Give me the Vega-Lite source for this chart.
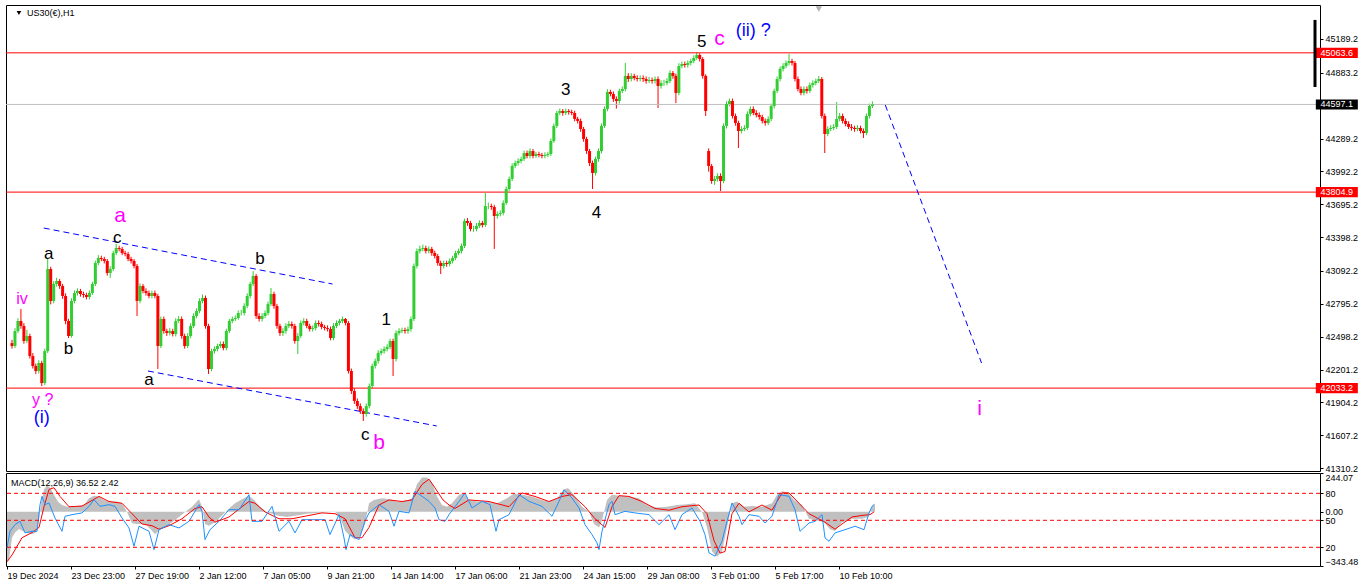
{
"$schema": "https://vega.github.io/schema/vega-lite/v6.json",
"padding": {"left": 4, "top": 4, "right": 0, "bottom": 0},
"background": "white",
"bounds": "flush",
"spacing": 2,
"config": {
 "view": {"stroke": "#000000", "strokeWidth": 1},
 "font": "Liberation Sans",
 "axis": {"labelFont": "Liberation Sans", "labelFontSize": 9, "labelColor": "#000000", "tickColor": "#000000", "domain": false, "grid": false, "labelOverlap": false, "labelFlush": false}
},
"datasets": {
"candles": [
{"i":0,"o":42440,"h":42470,"l":42390,"c":42414},{"i":3,"o":42414,"h":42575,"l":42395,"c":42549},{"i":6,"o":42549,"h":42665,"l":42530,"c":42640},{"i":9,"o":42640,"h":42748,"l":42570,"c":42595},{"i":12,"o":42595,"h":42620,"l":42435,"c":42459},{"i":15,"o":42459,"h":42560,"l":42440,"c":42504},{"i":18,"o":42504,"h":42525,"l":42300,"c":42323},{"i":21,"o":42323,"h":42350,"l":42210,"c":42233},{"i":24,"o":42233,"h":42255,"l":42160,"c":42188},{"i":27,"o":42188,"h":42285,"l":42165,"c":42260},
{"i":30,"o":42260,"h":42280,"l":42052,"c":42079},{"i":33,"o":42079,"h":42390,"l":42060,"c":42368},{"i":36,"o":42368,"h":43200,"l":42350,"c":43110},{"i":39,"o":43110,"h":43130,"l":42790,"c":42821},{"i":42,"o":42821,"h":43000,"l":42800,"c":42974},{"i":45,"o":42974,"h":43030,"l":42950,"c":43001},{"i":48,"o":43001,"h":43020,"l":42930,"c":42956},{"i":51,"o":42956,"h":42975,"l":42840,"c":42866},{"i":54,"o":42866,"h":42890,"l":42610,"c":42640},{"i":57,"o":42640,"h":42660,"l":42486,"c":42504},
{"i":60,"o":42504,"h":42845,"l":42490,"c":42821},{"i":63,"o":42821,"h":42915,"l":42800,"c":42893},{"i":66,"o":42893,"h":42935,"l":42870,"c":42911},{"i":69,"o":42911,"h":42930,"l":42860,"c":42884},{"i":72,"o":42884,"h":42905,"l":42850,"c":42875},{"i":75,"o":42875,"h":42895,"l":42835,"c":42857},{"i":78,"o":42857,"h":42915,"l":42835,"c":42893},{"i":81,"o":42893,"h":42995,"l":42875,"c":42974},{"i":84,"o":42974,"h":43185,"l":42955,"c":43164},{"i":87,"o":43164,"h":43235,"l":43145,"c":43209},
{"i":90,"o":43209,"h":43230,"l":43180,"c":43200},{"i":93,"o":43200,"h":43220,"l":43160,"c":43182},{"i":96,"o":43182,"h":43200,"l":43050,"c":43074},{"i":99,"o":43074,"h":43135,"l":43030,"c":43110},{"i":102,"o":43110,"h":43275,"l":43090,"c":43254},{"i":105,"o":43254,"h":43336,"l":43235,"c":43300},{"i":108,"o":43300,"h":43320,"l":43270,"c":43291},{"i":111,"o":43291,"h":43310,"l":43235,"c":43254},{"i":114,"o":43254,"h":43275,"l":43225,"c":43245},{"i":117,"o":43245,"h":43265,"l":43180,"c":43200},
{"i":120,"o":43200,"h":43220,"l":43160,"c":43182},{"i":123,"o":43182,"h":43200,"l":43115,"c":43137},{"i":126,"o":43137,"h":43155,"l":42685,"c":42821},{"i":129,"o":42821,"h":42980,"l":42800,"c":42956},{"i":132,"o":42956,"h":42975,"l":42890,"c":42911},{"i":135,"o":42911,"h":42935,"l":42870,"c":42893},{"i":138,"o":42893,"h":42915,"l":42845,"c":42866},{"i":141,"o":42866,"h":42915,"l":42845,"c":42893},{"i":144,"o":42893,"h":42915,"l":42845,"c":42866},{"i":147,"o":42866,"h":42885,"l":42206,"c":42414},
{"i":150,"o":42414,"h":42680,"l":42395,"c":42658},{"i":153,"o":42658,"h":42680,"l":42525,"c":42549},{"i":156,"o":42549,"h":42570,"l":42505,"c":42531},{"i":159,"o":42531,"h":42575,"l":42510,"c":42549},{"i":162,"o":42549,"h":42570,"l":42500,"c":42522},{"i":165,"o":42522,"h":42665,"l":42500,"c":42640},{"i":168,"o":42640,"h":42685,"l":42620,"c":42658},{"i":171,"o":42658,"h":42680,"l":42480,"c":42504},{"i":174,"o":42504,"h":42525,"l":42390,"c":42414},{"i":177,"o":42414,"h":42530,"l":42395,"c":42504},
{"i":180,"o":42504,"h":42620,"l":42485,"c":42595},{"i":183,"o":42595,"h":42710,"l":42575,"c":42685},{"i":186,"o":42685,"h":42755,"l":42665,"c":42730},{"i":189,"o":42730,"h":42845,"l":42710,"c":42821},{"i":192,"o":42821,"h":42880,"l":42800,"c":42848},{"i":195,"o":42848,"h":42870,"l":42570,"c":42595},{"i":198,"o":42595,"h":42615,"l":42161,"c":42206},{"i":201,"o":42206,"h":42390,"l":42185,"c":42368},{"i":204,"o":42368,"h":42410,"l":42345,"c":42387},{"i":207,"o":42387,"h":42435,"l":42365,"c":42414},
{"i":210,"o":42414,"h":42455,"l":42395,"c":42432},{"i":213,"o":42432,"h":42455,"l":42375,"c":42396},{"i":216,"o":42396,"h":42570,"l":42375,"c":42549},{"i":219,"o":42549,"h":42660,"l":42530,"c":42640},{"i":222,"o":42640,"h":42680,"l":42620,"c":42658},{"i":225,"o":42658,"h":42690,"l":42640,"c":42667},{"i":228,"o":42667,"h":42735,"l":42650,"c":42712},{"i":231,"o":42712,"h":42740,"l":42690,"c":42712},{"i":234,"o":42712,"h":42800,"l":42690,"c":42775},{"i":237,"o":42775,"h":42890,"l":42755,"c":42866},
{"i":240,"o":42866,"h":42995,"l":42845,"c":42974},{"i":243,"o":42974,"h":43091,"l":42955,"c":43047},{"i":246,"o":43047,"h":43065,"l":42660,"c":42685},{"i":249,"o":42685,"h":42710,"l":42635,"c":42658},{"i":252,"o":42658,"h":42710,"l":42635,"c":42685},{"i":255,"o":42685,"h":42735,"l":42665,"c":42712},{"i":258,"o":42712,"h":42815,"l":42690,"c":42793},{"i":261,"o":42793,"h":42938,"l":42775,"c":42884},{"i":264,"o":42884,"h":42905,"l":42750,"c":42775},{"i":267,"o":42775,"h":42795,"l":42570,"c":42595},
{"i":270,"o":42595,"h":42615,"l":42505,"c":42531},{"i":273,"o":42531,"h":42575,"l":42505,"c":42549},{"i":276,"o":42549,"h":42620,"l":42525,"c":42595},{"i":279,"o":42595,"h":42640,"l":42575,"c":42613},{"i":282,"o":42613,"h":42635,"l":42570,"c":42595},{"i":285,"o":42595,"h":42615,"l":42435,"c":42459},{"i":288,"o":42459,"h":42530,"l":42341,"c":42504},{"i":291,"o":42504,"h":42645,"l":42485,"c":42622},{"i":294,"o":42622,"h":42665,"l":42600,"c":42640},{"i":297,"o":42640,"h":42660,"l":42575,"c":42595},
{"i":300,"o":42595,"h":42615,"l":42545,"c":42567},{"i":303,"o":42567,"h":42600,"l":42545,"c":42576},{"i":306,"o":42576,"h":42645,"l":42555,"c":42622},{"i":309,"o":42622,"h":42645,"l":42590,"c":42613},{"i":312,"o":42613,"h":42635,"l":42565,"c":42586},{"i":315,"o":42586,"h":42605,"l":42555,"c":42576},{"i":318,"o":42576,"h":42600,"l":42545,"c":42567},{"i":321,"o":42567,"h":42590,"l":42465,"c":42486},{"i":324,"o":42486,"h":42620,"l":42465,"c":42595},{"i":327,"o":42595,"h":42645,"l":42575,"c":42622},
{"i":330,"o":42622,"h":42660,"l":42600,"c":42640},{"i":333,"o":42640,"h":42680,"l":42620,"c":42658},{"i":336,"o":42658,"h":42667,"l":42600,"c":42622},{"i":339,"o":42622,"h":42640,"l":42165,"c":42188},{"i":342,"o":42188,"h":42210,"l":41980,"c":42007},{"i":345,"o":42007,"h":42030,"l":41890,"c":41917},{"i":348,"o":41917,"h":41940,"l":41845,"c":41871},{"i":351,"o":41871,"h":41895,"l":41800,"c":41826},{"i":354,"o":41826,"h":41850,"l":41736,"c":41799},{"i":357,"o":41799,"h":41895,"l":41775,"c":41871},
{"i":360,"o":41871,"h":42075,"l":41850,"c":42052},{"i":363,"o":42052,"h":42255,"l":42030,"c":42233},{"i":366,"o":42233,"h":42300,"l":42210,"c":42278},{"i":369,"o":42278,"h":42375,"l":42255,"c":42350},{"i":372,"o":42350,"h":42390,"l":42330,"c":42368},{"i":375,"o":42368,"h":42410,"l":42345,"c":42387},{"i":378,"o":42387,"h":42430,"l":42365,"c":42405},{"i":381,"o":42405,"h":42480,"l":42385,"c":42459},{"i":384,"o":42459,"h":42480,"l":42142,"c":42296},{"i":387,"o":42296,"h":42555,"l":42275,"c":42531},
{"i":390,"o":42531,"h":42575,"l":42510,"c":42549},{"i":393,"o":42549,"h":42580,"l":42530,"c":42558},{"i":396,"o":42558,"h":42580,"l":42525,"c":42549},{"i":399,"o":42549,"h":42590,"l":42525,"c":42567},{"i":402,"o":42567,"h":42680,"l":42545,"c":42658},{"i":405,"o":42658,"h":43160,"l":42640,"c":43137},{"i":408,"o":43137,"h":43295,"l":43115,"c":43272},{"i":411,"o":43272,"h":43320,"l":43250,"c":43291},{"i":414,"o":43291,"h":43330,"l":43270,"c":43300},{"i":417,"o":43300,"h":43320,"l":43250,"c":43272},
{"i":420,"o":43272,"h":43315,"l":43250,"c":43291},{"i":423,"o":43291,"h":43310,"l":43230,"c":43254},{"i":426,"o":43254,"h":43275,"l":43205,"c":43227},{"i":429,"o":43227,"h":43245,"l":43140,"c":43164},{"i":432,"o":43164,"h":43185,"l":43064,"c":43137},{"i":435,"o":43137,"h":43185,"l":43115,"c":43164},{"i":438,"o":43164,"h":43185,"l":43130,"c":43155},{"i":441,"o":43155,"h":43205,"l":43135,"c":43182},{"i":444,"o":43182,"h":43230,"l":43160,"c":43209},{"i":447,"o":43209,"h":43275,"l":43190,"c":43254},
{"i":450,"o":43254,"h":43295,"l":43235,"c":43272},{"i":453,"o":43272,"h":43340,"l":43250,"c":43318},{"i":456,"o":43318,"h":43565,"l":43300,"c":43544},{"i":459,"o":43544,"h":43570,"l":43500,"c":43526},{"i":462,"o":43526,"h":43545,"l":43450,"c":43471},{"i":465,"o":43471,"h":43500,"l":43445,"c":43471},{"i":468,"o":43471,"h":43525,"l":43450,"c":43499},{"i":471,"o":43499,"h":43550,"l":43480,"c":43526},{"i":474,"o":43526,"h":43545,"l":43485,"c":43508},{"i":477,"o":43508,"h":43797,"l":43490,"c":43679},
{"i":480,"o":43679,"h":43710,"l":43650,"c":43679},{"i":483,"o":43679,"h":43700,"l":43645,"c":43670},{"i":486,"o":43670,"h":43690,"l":43291,"c":43589},{"i":489,"o":43589,"h":43630,"l":43565,"c":43607},{"i":492,"o":43607,"h":43640,"l":43585,"c":43616},{"i":495,"o":43616,"h":43730,"l":43595,"c":43706},{"i":498,"o":43706,"h":43855,"l":43690,"c":43833},{"i":501,"o":43833,"h":43945,"l":43815,"c":43924},{"i":504,"o":43924,"h":44065,"l":43905,"c":44041},{"i":507,"o":44041,"h":44090,"l":44020,"c":44068},
{"i":510,"o":44068,"h":44110,"l":44045,"c":44086},{"i":513,"o":44086,"h":44125,"l":44065,"c":44104},{"i":516,"o":44104,"h":44180,"l":44085,"c":44158},{"i":519,"o":44158,"h":44180,"l":44110,"c":44131},{"i":522,"o":44131,"h":44200,"l":44110,"c":44176},{"i":525,"o":44176,"h":44195,"l":44110,"c":44131},{"i":528,"o":44131,"h":44170,"l":44115,"c":44149},{"i":531,"o":44149,"h":44170,"l":44120,"c":44140},{"i":534,"o":44140,"h":44160,"l":44110,"c":44131},{"i":537,"o":44131,"h":44165,"l":44110,"c":44140},
{"i":540,"o":44140,"h":44170,"l":44120,"c":44149},{"i":543,"o":44149,"h":44290,"l":44130,"c":44267},{"i":546,"o":44267,"h":44425,"l":44250,"c":44403},{"i":549,"o":44403,"h":44540,"l":44385,"c":44520},{"i":552,"o":44520,"h":44560,"l":44500,"c":44538},{"i":555,"o":44538,"h":44556,"l":44495,"c":44520},{"i":558,"o":44520,"h":44560,"l":44500,"c":44538},{"i":561,"o":44538,"h":44555,"l":44505,"c":44529},{"i":564,"o":44529,"h":44550,"l":44500,"c":44520},{"i":567,"o":44520,"h":44540,"l":44445,"c":44466},
{"i":570,"o":44466,"h":44485,"l":44425,"c":44448},{"i":573,"o":44448,"h":44470,"l":44350,"c":44375},{"i":576,"o":44375,"h":44395,"l":44260,"c":44285},{"i":579,"o":44285,"h":44305,"l":44150,"c":44176},{"i":582,"o":44176,"h":44195,"l":44040,"c":44068},{"i":585,"o":44068,"h":44090,"l":43833,"c":43978},{"i":588,"o":43978,"h":44125,"l":43955,"c":44104},{"i":591,"o":44104,"h":44200,"l":44080,"c":44176},{"i":594,"o":44176,"h":44425,"l":44155,"c":44403},{"i":597,"o":44403,"h":44580,"l":44385,"c":44556},
{"i":600,"o":44556,"h":44735,"l":44535,"c":44710},{"i":603,"o":44710,"h":44730,"l":44670,"c":44692},{"i":606,"o":44692,"h":44715,"l":44620,"c":44647},{"i":609,"o":44647,"h":44670,"l":44560,"c":44628},{"i":612,"o":44628,"h":44740,"l":44605,"c":44719},{"i":615,"o":44719,"h":44760,"l":44700,"c":44737},{"i":618,"o":44737,"h":44972,"l":44715,"c":44855},{"i":621,"o":44855,"h":44880,"l":44800,"c":44827},{"i":624,"o":44827,"h":44880,"l":44805,"c":44855},{"i":627,"o":44855,"h":44875,"l":44815,"c":44836},
{"i":630,"o":44836,"h":44860,"l":44805,"c":44827},{"i":633,"o":44827,"h":44860,"l":44805,"c":44836},{"i":636,"o":44836,"h":44860,"l":44800,"c":44827},{"i":639,"o":44827,"h":44850,"l":44785,"c":44809},{"i":642,"o":44809,"h":44845,"l":44790,"c":44818},{"i":645,"o":44818,"h":44840,"l":44785,"c":44809},{"i":648,"o":44809,"h":44850,"l":44785,"c":44827},{"i":651,"o":44827,"h":44850,"l":44565,"c":44764},{"i":654,"o":44764,"h":44815,"l":44740,"c":44791},{"i":657,"o":44791,"h":44820,"l":44765,"c":44791},
{"i":660,"o":44791,"h":44835,"l":44770,"c":44809},{"i":663,"o":44809,"h":44905,"l":44790,"c":44882},{"i":666,"o":44882,"h":44900,"l":44830,"c":44855},{"i":669,"o":44855,"h":44875,"l":44610,"c":44701},{"i":672,"o":44701,"h":44970,"l":44680,"c":44945},{"i":675,"o":44945,"h":44985,"l":44925,"c":44963},{"i":678,"o":44963,"h":44985,"l":44930,"c":44954},{"i":681,"o":44954,"h":44995,"l":44930,"c":44972},{"i":684,"o":44972,"h":45010,"l":44950,"c":44990},{"i":687,"o":44990,"h":45040,"l":44970,"c":45017},
{"i":690,"o":45017,"h":45071,"l":45000,"c":45044},{"i":693,"o":45044,"h":45060,"l":44985,"c":45008},{"i":696,"o":45008,"h":45025,"l":44830,"c":44855},{"i":699,"o":44855,"h":44870,"l":44493,"c":44538},{"i":702,"o":44176,"h":44200,"l":43990,"c":44041},{"i":705,"o":44041,"h":44060,"l":43880,"c":43905},{"i":708,"o":43905,"h":43950,"l":43870,"c":43924},{"i":711,"o":43924,"h":43975,"l":43900,"c":43951},{"i":714,"o":43951,"h":43975,"l":43815,"c":43905},{"i":717,"o":43905,"h":44425,"l":43885,"c":44403},
{"i":720,"o":44403,"h":44625,"l":44380,"c":44601},{"i":723,"o":44601,"h":44650,"l":44580,"c":44628},{"i":726,"o":44628,"h":44650,"l":44470,"c":44493},{"i":729,"o":44493,"h":44515,"l":44405,"c":44430},{"i":732,"o":44430,"h":44450,"l":44204,"c":44357},{"i":735,"o":44357,"h":44400,"l":44335,"c":44375},{"i":738,"o":44375,"h":44410,"l":44355,"c":44385},{"i":741,"o":44385,"h":44535,"l":44365,"c":44511},{"i":744,"o":44511,"h":44580,"l":44490,"c":44556},{"i":747,"o":44556,"h":44580,"l":44500,"c":44520},
{"i":750,"o":44520,"h":44545,"l":44480,"c":44502},{"i":753,"o":44502,"h":44525,"l":44460,"c":44484},{"i":756,"o":44484,"h":44505,"l":44425,"c":44448},{"i":759,"o":44448,"h":44470,"l":44405,"c":44430},{"i":762,"o":44430,"h":44490,"l":44410,"c":44466},{"i":765,"o":44466,"h":44605,"l":44445,"c":44583},{"i":768,"o":44583,"h":44740,"l":44560,"c":44719},{"i":771,"o":44719,"h":44850,"l":44700,"c":44827},{"i":774,"o":44827,"h":44940,"l":44805,"c":44918},{"i":777,"o":44918,"h":44970,"l":44895,"c":44945},
{"i":780,"o":44945,"h":44995,"l":44925,"c":44972},{"i":783,"o":44972,"h":45053,"l":44950,"c":44990},{"i":786,"o":44990,"h":45010,"l":44950,"c":44972},{"i":789,"o":44972,"h":44990,"l":44805,"c":44827},{"i":792,"o":44827,"h":44850,"l":44715,"c":44737},{"i":795,"o":44737,"h":44760,"l":44680,"c":44701},{"i":798,"o":44701,"h":44760,"l":44680,"c":44737},{"i":801,"o":44737,"h":44760,"l":44695,"c":44719},{"i":804,"o":44719,"h":44795,"l":44700,"c":44773},{"i":807,"o":44773,"h":44815,"l":44750,"c":44791},
{"i":810,"o":44791,"h":44830,"l":44770,"c":44809},{"i":813,"o":44809,"h":44855,"l":44790,"c":44827},{"i":816,"o":44827,"h":44845,"l":44470,"c":44493},{"i":819,"o":44493,"h":44515,"l":44158,"c":44330},{"i":822,"o":44330,"h":44400,"l":44310,"c":44375},{"i":825,"o":44375,"h":44410,"l":44355,"c":44385},{"i":828,"o":44385,"h":44420,"l":44365,"c":44394},{"i":831,"o":44394,"h":44619,"l":44375,"c":44466},{"i":834,"o":44466,"h":44520,"l":44445,"c":44493},{"i":837,"o":44493,"h":44515,"l":44425,"c":44448},
{"i":840,"o":44448,"h":44470,"l":44400,"c":44421},{"i":843,"o":44421,"h":44445,"l":44375,"c":44394},{"i":846,"o":44394,"h":44420,"l":44360,"c":44385},{"i":849,"o":44385,"h":44405,"l":44350,"c":44375},{"i":852,"o":44375,"h":44410,"l":44355,"c":44385},{"i":855,"o":44385,"h":44405,"l":44335,"c":44357},{"i":858,"o":44357,"h":44380,"l":44294,"c":44339},{"i":861,"o":44339,"h":44515,"l":44320,"c":44493},{"i":864,"o":44493,"h":44605,"l":44470,"c":44583},{"i":867,"o":44583,"h":44625,"l":44565,"c":44597}
],
"hist": [
{"i":0,"m":-317},{"i":2,"m":-306},{"i":5,"m":-165},{"i":8,"m":-132},{"i":12,"m":-110},{"i":15,"m":-121},{"i":20,"m":-132},{"i":25,"m":-143},{"i":29,"m":-132},{"i":32,"m":-56},{"i":34,"m":53},{"i":37,"m":140},{"i":40,"m":166},{"i":43,"m":151},{"i":47,"m":107},{"i":51,"m":63},{"i":55,"m":42},{"i":60,"m":31},{"i":70,"m":35},{"i":77,"m":42},{"i":82,"m":85},{"i":87,"m":101},{"i":92,"m":96},{"i":97,"m":74},{"i":102,"m":64},{"i":110,"m":64},{"i":115,"m":53},{"i":120,"m":-2},{"i":125,"m":-73},{"i":130,"m":-78},{"i":135,"m":-78},{"i":140,"m":-89},{"i":145,"m":-121},{"i":148,"m":-143},{"i":152,"m":-117},{"i":158,"m":-100},{"i":165,"m":-67},{"i":172,"m":-34},{"i":178,"m":-2},{"i":185,"m":31},{"i":192,"m":79},{"i":195,"m":31},{"i":198,"m":-78},{"i":202,"m":-89},{"i":208,"m":-67},{"i":215,"m":-24},{"i":222,"m":20},{"i":228,"m":53},{"i":235,"m":79},{"i":242,"m":101},{"i":247,"m":74},{"i":253,"m":31},{"i":260,"m":-2},{"i":270,"m":-24},{"i":280,"m":-34},{"i":290,"m":-24},{"i":300,"m":-13},{"i":315,"m":-6},{"i":328,"m":-2},{"i":333,"m":-34},{"i":338,"m":-121},{"i":343,"m":-154},{"i":348,"m":-176},{"i":353,"m":-154},{"i":358,"m":-78},{"i":362,"m":53},{"i":367,"m":74},{"i":375,"m":85},{"i":382,"m":79},{"i":390,"m":64},{"i":400,"m":70},{"i":405,"m":85},{"i":410,"m":173},{"i":415,"m":216},{"i":420,"m":216},{"i":425,"m":183},{"i":430,"m":96},{"i":435,"m":42},{"i":440,"m":31},{"i":445,"m":53},{"i":452,"m":107},{"i":457,"m":118},{"i":462,"m":74},{"i":470,"m":64},{"i":480,"m":64},{"i":490,"m":53},{"i":500,"m":85},{"i":507,"m":114},{"i":515,"m":107},{"i":525,"m":96},{"i":535,"m":74},{"i":542,"m":64},{"i":550,"m":85},{"i":557,"m":140},{"i":561,"m":150},{"i":567,"m":107},{"i":575,"m":31},{"i":582,"m":-2},{"i":587,"m":-78},{"i":592,"m":-100},{"i":595,"m":-56},{"i":600,"m":74},{"i":605,"m":107},{"i":612,"m":101},{"i":622,"m":96},{"i":632,"m":85},{"i":640,"m":42},{"i":650,"m":26},{"i":660,"m":31},{"i":670,"m":42},{"i":680,"m":46},{"i":688,"m":53},{"i":695,"m":-2},{"i":700,"m":-100},{"i":705,"m":-252},{"i":710,"m":-285},{"i":715,"m":-252},{"i":720,"m":-100},{"i":725,"m":53},{"i":730,"m":64},{"i":737,"m":31},{"i":745,"m":35},{"i":755,"m":31},{"i":765,"m":53},{"i":770,"m":107},{"i":775,"m":129},{"i":781,"m":122},{"i":787,"m":74},{"i":795,"m":42},{"i":802,"m":-45},{"i":810,"m":-56},{"i":817,"m":-67},{"i":823,"m":-111},{"i":828,"m":-122},{"i":835,"m":-67},{"i":845,"m":-45},{"i":855,"m":-45},{"i":861,"m":-34},{"i":865,"m":31},{"i":868,"m":53}
],
"sig": [
{"i":0,"s":-317},{"i":5,"s":-274},{"i":15,"s":-165},{"i":25,"s":-132},{"i":32,"s":-100},{"i":37,"s":31},{"i":42,"s":140},{"i":47,"s":151},{"i":53,"s":96},{"i":62,"s":31},{"i":75,"s":35},{"i":92,"s":96},{"i":102,"s":64},{"i":115,"s":53},{"i":125,"s":-13},{"i":135,"s":-78},{"i":145,"s":-89},{"i":152,"s":-111},{"i":162,"s":-89},{"i":175,"s":-45},{"i":188,"s":20},{"i":195,"s":31},{"i":202,"s":-34},{"i":208,"s":-67},{"i":222,"s":-34},{"i":235,"s":31},{"i":242,"s":64},{"i":248,"s":53},{"i":258,"s":-2},{"i":272,"s":-45},{"i":285,"s":-45},{"i":302,"s":-24},{"i":315,"s":-8},{"i":328,"s":-13},{"i":338,"s":-45},{"i":348,"s":-165},{"i":355,"s":-165},{"i":362,"s":-100},{"i":372,"s":42},{"i":382,"s":74},{"i":395,"s":64},{"i":405,"s":74},{"i":415,"s":172},{"i":422,"s":205},{"i":428,"s":150},{"i":436,"s":74},{"i":442,"s":42},{"i":448,"s":20},{"i":462,"s":74},{"i":482,"s":64},{"i":502,"s":31},{"i":515,"s":118},{"i":528,"s":96},{"i":542,"s":64},{"i":555,"s":96},{"i":565,"s":107},{"i":578,"s":31},{"i":588,"s":-45},{"i":598,"s":-100},{"i":605,"s":31},{"i":612,"s":101},{"i":622,"s":96},{"i":635,"s":64},{"i":648,"s":20},{"i":662,"s":9},{"i":675,"s":31},{"i":692,"s":42},{"i":700,"s":-13},{"i":707,"s":-183},{"i":713,"s":-262},{"i":718,"s":-252},{"i":725,"s":-13},{"i":732,"s":53},{"i":742,"s":-2},{"i":755,"s":42},{"i":765,"s":9},{"i":775,"s":118},{"i":782,"s":118},{"i":792,"s":53},{"i":802,"s":-13},{"i":818,"s":-67},{"i":828,"s":-111},{"i":835,"s":-78},{"i":845,"s":-34},{"i":855,"s":-24},{"i":863,"s":-19},{"i":867,"s":-2}
],
"rsi": [
{"i":0,"r":19.3},{"i":3,"r":37.8},{"i":8,"r":45.2},{"i":13,"r":48.9},{"i":18,"r":36},{"i":25,"r":37.8},{"i":30,"r":37.8},{"i":33,"r":67.4},{"i":35,"r":76.7},{"i":38,"r":67.4},{"i":42,"r":69.3},{"i":48,"r":52.6},{"i":55,"r":37.8},{"i":58,"r":54.5},{"i":65,"r":56.3},{"i":75,"r":58.2},{"i":82,"r":65.5},{"i":87,"r":73},{"i":93,"r":65.5},{"i":102,"r":67.4},{"i":108,"r":65.5},{"i":115,"r":52.6},{"i":122,"r":41.5},{"i":127,"r":21.2},{"i":132,"r":43.4},{"i":142,"r":37.8},{"i":147,"r":17.4},{"i":152,"r":39.6},{"i":162,"r":45.2},{"i":172,"r":41.5},{"i":182,"r":48.9},{"i":192,"r":67.4},{"i":195,"r":60},{"i":198,"r":28.5},{"i":203,"r":39.6},{"i":212,"r":48.9},{"i":222,"r":61.8},{"i":232,"r":61.8},{"i":242,"r":78.5},{"i":245,"r":48.9},{"i":255,"r":48.9},{"i":265,"r":65.5},{"i":272,"r":37.8},{"i":282,"r":48.9},{"i":288,"r":36},{"i":295,"r":50.7},{"i":308,"r":50.7},{"i":318,"r":50.7},{"i":323,"r":34.1},{"i":332,"r":56.3},{"i":337,"r":30.4},{"i":339,"r":17.4},{"i":343,"r":34.1},{"i":352,"r":28.5},{"i":358,"r":48.9},{"i":362,"r":58.2},{"i":372,"r":67.4},{"i":382,"r":60},{"i":387,"r":43.4},{"i":392,"r":60},{"i":402,"r":58.2},{"i":408,"r":82.2},{"i":415,"r":76.7},{"i":422,"r":71.1},{"i":428,"r":63.7},{"i":432,"r":50.7},{"i":438,"r":48.9},{"i":442,"r":56.3},{"i":452,"r":71.1},{"i":458,"r":80.4},{"i":465,"r":63.7},{"i":475,"r":71.1},{"i":483,"r":67.4},{"i":489,"r":37.8},{"i":492,"r":50.7},{"i":502,"r":56.3},{"i":512,"r":78.5},{"i":522,"r":71.1},{"i":535,"r":65.5},{"i":545,"r":54.5},{"i":552,"r":71.1},{"i":557,"r":84},{"i":565,"r":74.8},{"i":572,"r":63.7},{"i":578,"r":45.2},{"i":585,"r":34.1},{"i":590,"r":24.9},{"i":592,"r":17.4},{"i":595,"r":37.8},{"i":602,"r":67.4},{"i":605,"r":71.1},{"i":608,"r":56.3},{"i":618,"r":60},{"i":628,"r":58.2},{"i":642,"r":56.3},{"i":652,"r":45.2},{"i":662,"r":56.3},{"i":668,"r":39.6},{"i":675,"r":56.3},{"i":685,"r":63.7},{"i":693,"r":48.9},{"i":698,"r":34.1},{"i":702,"r":13.8},{"i":708,"r":10.1},{"i":715,"r":26.7},{"i":720,"r":48.9},{"i":725,"r":69.3},{"i":732,"r":54.5},{"i":735,"r":45.2},{"i":742,"r":56.3},{"i":752,"r":54.5},{"i":758,"r":47},{"i":765,"r":54.5},{"i":772,"r":78.5},{"i":782,"r":76.7},{"i":788,"r":61.8},{"i":793,"r":37.8},{"i":802,"r":47},{"i":808,"r":48.9},{"i":815,"r":56.3},{"i":818,"r":30.4},{"i":822,"r":26.7},{"i":828,"r":36},{"i":838,"r":39.6},{"i":848,"r":43.4},{"i":857,"r":39.6},{"i":862,"r":58.2},{"i":865,"r":65.5},{"i":867,"r":67.4}
],
"levels": [{"p":45063.6,"k":"level"},{"p":44597.1,"k":"last"},{"p":43804.9,"k":"level"},{"p":42033.2,"k":"level"}],
"guides": [{"g":"u","i":32,"p":43480},{"g":"u","i":323,"p":42974},{"g":"l","i":137,"p":42188},{"g":"l","i":428,"p":41691},{"g":"f","i":880,"p":44592},{"g":"f","i":977,"p":42260}],
"labels": [
{"t":"a","i":37,"p":43245,"k":"minute"},{"t":"b","i":57,"p":42387,"k":"minute"},{"t":"c","i":106,"p":43390,"k":"minute"},{"t":"b","i":250,"p":43200,"k":"minute"},{"t":"a","i":138,"p":42106,"k":"minute"},{"t":"c","i":356,"p":41609,"k":"minute"},{"t":"1","i":377,"p":42649,"k":"minute"},{"t":"3","i":558,"p":44728,"k":"minute"},{"t":"4","i":589,"p":43616,"k":"minute"},{"t":"5","i":695,"p":45162,"k":"minute"},
{"t":"iv","i":10,"p":42839,"k":"minor"},{"t":"y ?","i":31,"p":41925,"k":"minor"},
{"t":"a","i":109,"p":43590,"k":"intermediate"},{"t":"b","i":370,"p":41537,"k":"intermediate"},{"t":"c","i":713,"p":45189,"k":"intermediate"},{"t":"i","i":975,"p":41844,"k":"intermediate"},
{"t":"(i)","i":30,"p":41765,"k":"primary"},{"t":"(ii) ?","i":747,"p":45261,"k":"primary"}
],
"rsilevels": [{"v":20},{"v":50},{"v":80}]
},
"vconcat": [
{
 "width": 1314,
 "height": 466,
 "layer": [
  {"data": {"name": "candles"}, "mark": {"type": "rule", "strokeWidth": 1},
   "encoding": {
    "x": {"field": "i", "type": "quantitative", "scale": {"domain": [-1, 1313], "nice": false, "zero": false}, "axis": null},
    "y": {"field": "l", "type": "quantitative", "scale": {"domain": [41284, 45496], "nice": false, "zero": false},
     "axis": {"orient": "right", "values": [45189.2, 44883.2, 44289.2, 43992.2, 43695.2, 43398.2, 43092.2, 42795.2, 42498.2, 42201.2, 41904.2, 41607.2, 41310.2], "tickCount": 30, "format": ".1f", "title": null, "tickSize": 3, "labelPadding": 2, "labelOverlap": false, "labelFlush": false}},
    "y2": {"field": "h"},
    "color": {"condition": {"test": "datum.c >= datum.o", "value": "#32cd32"}, "value": "#ff0000"}}},
  {"data": {"name": "levels"}, "mark": {"type": "rule", "strokeWidth": 1},
   "encoding": {"y": {"field": "p", "type": "quantitative"},
    "stroke": {"field": "k", "type": "nominal", "scale": {"domain": ["level", "last"], "range": ["#ff0000", "#c0c0c0"]}, "legend": null}}},
  {"data": {"name": "guides"}, "mark": {"type": "line", "color": "#0000ff", "strokeWidth": 1, "strokeDash": [6, 4]},
   "encoding": {"x": {"field": "i", "type": "quantitative", "axis": null}, "y": {"field": "p", "type": "quantitative"}, "detail": {"field": "g"}}},
  {"data": {"name": "candles"}, "mark": {"type": "bar", "width": 3},
   "encoding": {
    "x": {"field": "i", "type": "quantitative", "axis": null},
    "y": {"field": "o", "type": "quantitative"},
    "y2": {"field": "c"},
    "color": {"condition": {"test": "datum.c >= datum.o", "value": "#32cd32"}, "value": "#ff0000"}}},
  {"data": {"name": "labels"}, "transform": [{"filter": "datum.k == 'minute'"}],
   "mark": {"type": "text", "font": "Liberation Sans", "fontSize": 17, "color": "#000000", "align": "center", "baseline": "middle"},
   "encoding": {"x": {"field": "i", "type": "quantitative", "axis": null}, "y": {"field": "p", "type": "quantitative"}, "text": {"field": "t"}}},
  {"data": {"name": "labels"}, "transform": [{"filter": "datum.k == 'minor'"}],
   "mark": {"type": "text", "font": "Liberation Sans", "fontSize": 16, "color": "#ff00ff", "align": "center", "baseline": "middle"},
   "encoding": {"x": {"field": "i", "type": "quantitative", "axis": null}, "y": {"field": "p", "type": "quantitative"}, "text": {"field": "t"}}},
  {"data": {"name": "labels"}, "transform": [{"filter": "datum.k == 'intermediate'"}],
   "mark": {"type": "text", "font": "Liberation Sans", "fontSize": 21, "color": "#ff00ff", "align": "center", "baseline": "middle"},
   "encoding": {"x": {"field": "i", "type": "quantitative", "axis": null}, "y": {"field": "p", "type": "quantitative"}, "text": {"field": "t"}}},
  {"data": {"name": "labels"}, "transform": [{"filter": "datum.k == 'primary'"}],
   "mark": {"type": "text", "font": "Liberation Sans", "fontSize": 18, "color": "#0000ff", "align": "center", "baseline": "middle"},
   "encoding": {"x": {"field": "i", "type": "quantitative", "axis": null}, "y": {"field": "p", "type": "quantitative"}, "text": {"field": "t"}}},
  {"data": {"name": "levels"}, "mark": {"type": "point", "shape": "M-1,-0.24H1V0.24H-1Z", "size": 1764, "filled": true, "opacity": 1, "strokeWidth": 0},
   "encoding": {"x": {"datum": 1335, "type": "quantitative", "axis": null}, "y": {"field": "p", "type": "quantitative"},
    "fill": {"field": "k", "type": "nominal", "scale": {"domain": ["level", "last"], "range": ["#ff0000", "#000000"]}, "legend": null}}},
  {"data": {"name": "levels"}, "mark": {"type": "text", "font": "Liberation Sans", "fontSize": 9, "color": "#ffffff", "align": "center", "baseline": "middle"},
   "encoding": {"x": {"datum": 1335, "type": "quantitative", "axis": null}, "y": {"field": "p", "type": "quantitative"}, "text": {"field": "p", "type": "quantitative", "format": ".1f"}}},
  {"data": {"values": [{}]}, "mark": {"type": "rule", "color": "#000000", "strokeWidth": 3},
   "encoding": {"x": {"datum": 1313, "type": "quantitative", "axis": null}, "y": {"datum": 45361, "type": "quantitative"}, "y2": {"datum": 44755}}},
  {"data": {"values": [{}]}, "mark": {"type": "text", "text": "US30(€),H1", "font": "Liberation Sans", "fontSize": 9, "color": "#000000", "align": "left", "baseline": "middle"},
   "encoding": {"x": {"datum": 15, "type": "quantitative", "axis": null}, "y": {"datum": 45424, "type": "quantitative"}}},
  {"data": {"values": [{}]}, "mark": {"type": "point", "shape": "triangle-down", "size": 22, "filled": true, "color": "#000000", "opacity": 1},
   "encoding": {"x": {"datum": 7, "type": "quantitative", "axis": null}, "y": {"datum": 45424, "type": "quantitative"}}},
  {"data": {"values": [{}]}, "mark": {"type": "point", "shape": "triangle-down", "size": 40, "filled": true, "color": "#b0b0b0", "opacity": 1},
   "encoding": {"x": {"datum": 813, "type": "quantitative", "axis": null}, "y": {"datum": 45460, "type": "quantitative"}}}
 ]
},
{
 "width": 1314,
 "height": 93,
 "layer": [
  {"layer": [
   {"data": {"name": "hist"}, "mark": {"type": "area", "color": "#c0c0c0", "opacity": 1},
    "encoding": {
     "x": {"field": "i", "type": "quantitative", "scale": {"domain": [-1, 1313], "nice": false, "zero": false},
      "axis": {"values": [0, 64, 128, 192, 256, 320, 384, 448, 512, 576, 640, 704, 768, 832], "tickCount": 40,
       "labelExpr": "['19 Dec 2024','23 Dec 23:00','27 Dec 19:00','2 Jan 12:00','7 Jan 05:00','9 Jan 21:00','14 Jan 14:00','17 Jan 06:00','21 Jan 23:00','24 Jan 15:00','29 Jan 08:00','3 Feb 01:00','5 Feb 17:00','10 Feb 10:00'][round(datum.value/64)]",
       "labelAlign": "left", "labelFlush": false, "labelOverlap": false, "tickSize": 3, "labelPadding": 2, "title": null}},
     "y": {"field": "m", "type": "quantitative", "scale": {"domain": [-343.48, 244.07], "nice": false, "zero": false},
      "axis": {"orient": "right", "values": [244.07, 0, -343.48], "tickCount": 10, "format": ".2f", "labelFlush": true, "labelOverlap": false, "tickSize": 3, "labelPadding": 2, "title": null}},
     "y2": {"datum": 0}}},
   {"data": {"name": "sig"}, "mark": {"type": "line", "color": "#ff0000", "strokeWidth": 1},
    "encoding": {"x": {"field": "i", "type": "quantitative"}, "y": {"field": "s", "type": "quantitative"}}},
   {"data": {"values": [{}]}, "mark": {"type": "text", "text": "MACD(12,26,9) 36.52 2.42", "font": "Liberation Sans", "fontSize": 9, "color": "#000000", "align": "left", "baseline": "middle"},
    "encoding": {"x": {"datum": 4, "type": "quantitative"}, "y": {"datum": 181, "type": "quantitative"}}}
  ]},
  {"layer": [
   {"data": {"name": "rsi"}, "mark": {"type": "line", "color": "#1e90ff", "strokeWidth": 1},
    "encoding": {"x": {"field": "i", "type": "quantitative"},
     "y": {"field": "r", "type": "quantitative", "scale": {"domain": [-0.8, 102.6], "nice": false, "zero": false},
      "axis": {"orient": "right", "values": [20, 50, 80], "tickCount": 10, "format": "d", "labelFlush": false, "labelOverlap": false, "tickSize": 3, "labelPadding": 2, "title": null}}}},
   {"data": {"name": "rsilevels"}, "mark": {"type": "rule", "color": "#ff0000", "strokeWidth": 1, "strokeDash": [4, 3]},
    "encoding": {"y": {"field": "v", "type": "quantitative"}}}
  ]}
 ],
 "resolve": {"scale": {"y": "independent"}}
}
]
}
